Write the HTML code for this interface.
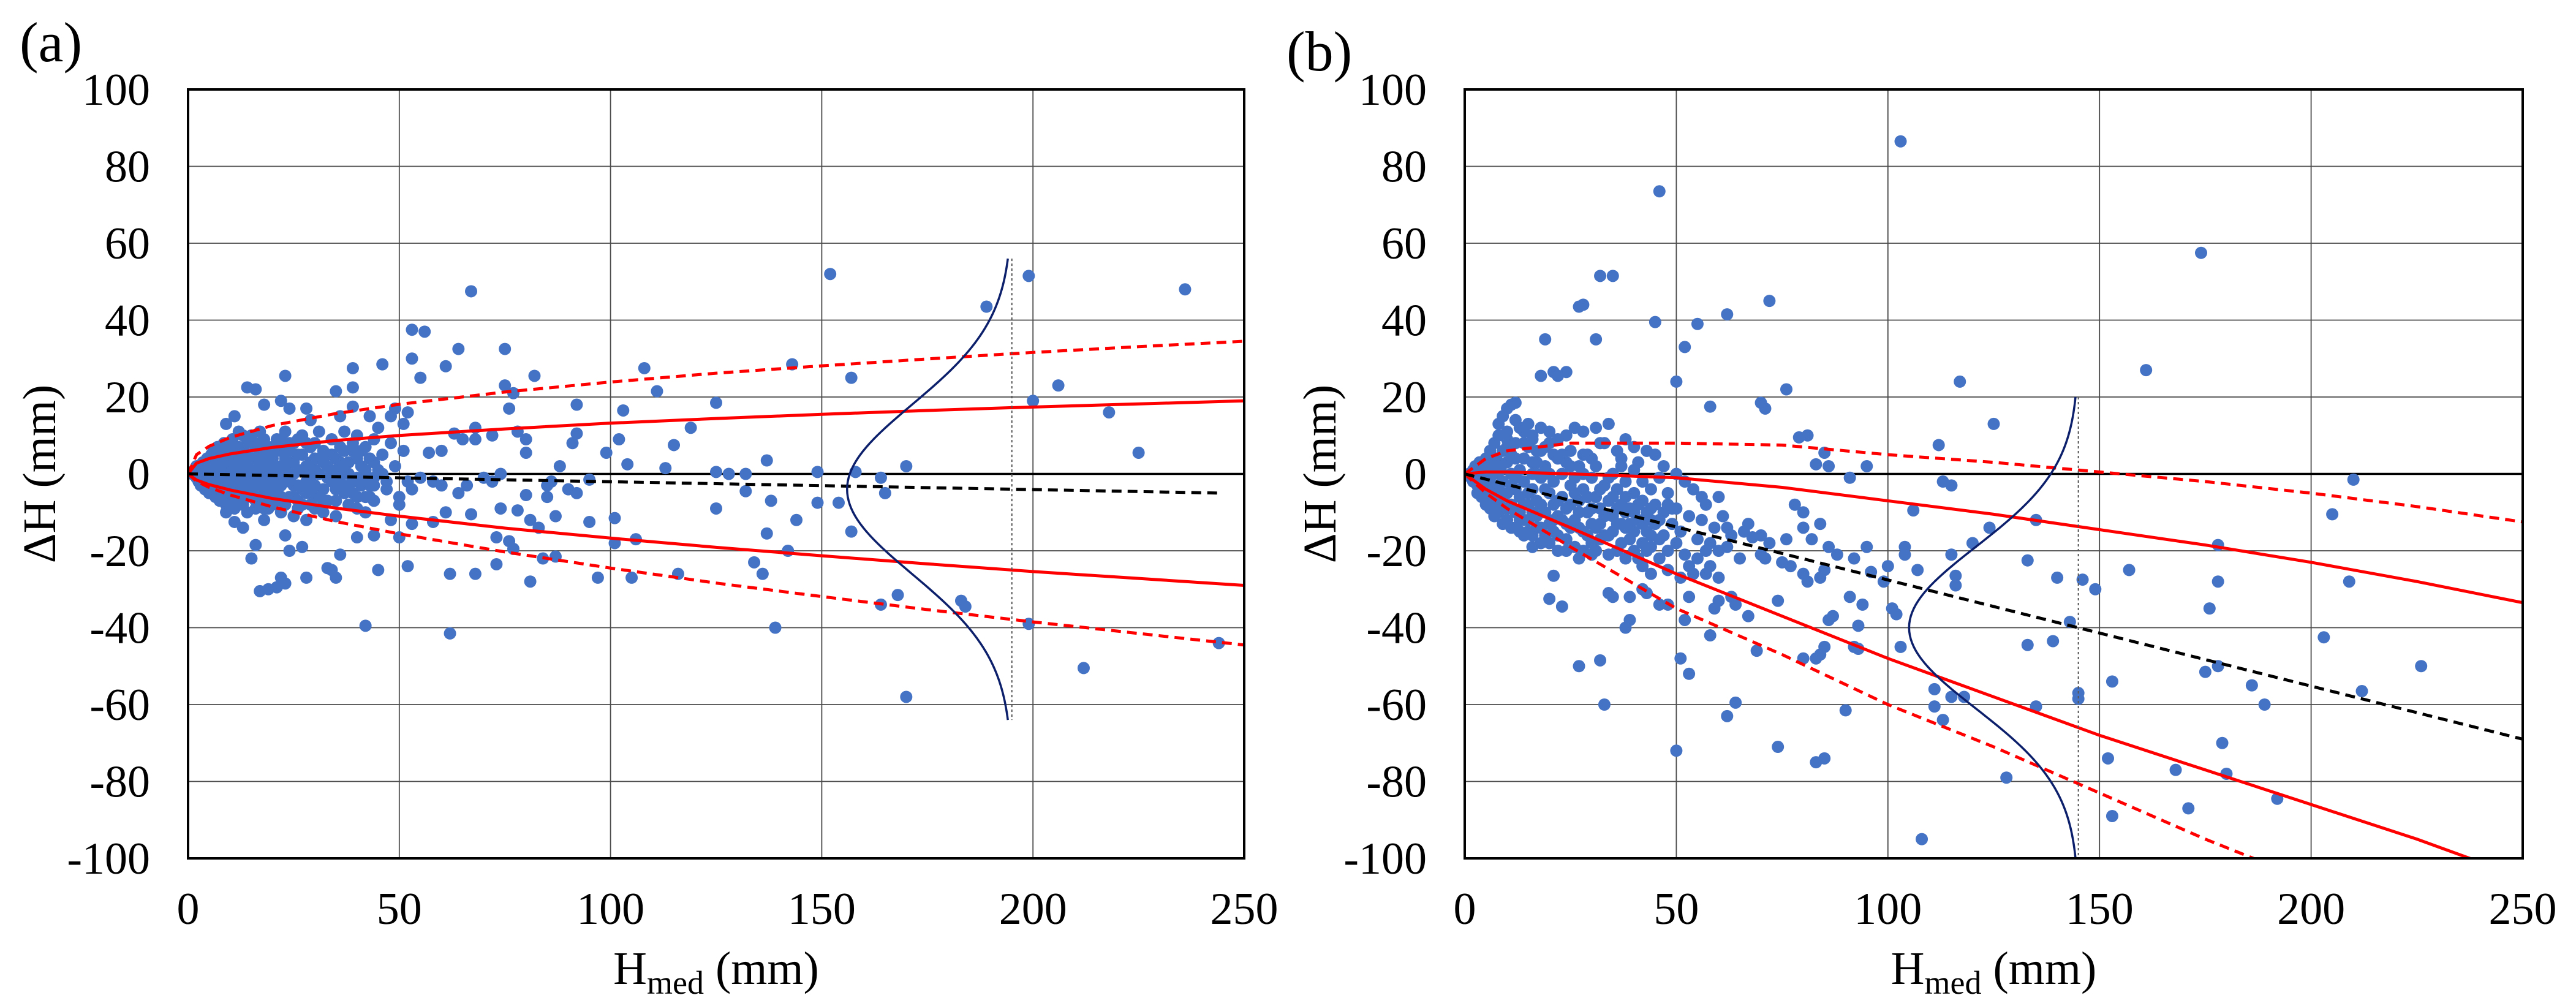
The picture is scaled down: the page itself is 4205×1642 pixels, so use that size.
<!DOCTYPE html>
<html><head><meta charset="utf-8"><style>
html,body{margin:0;padding:0;background:#fff;}
svg{display:block;}
text{font-family:"Liberation Serif",serif;fill:#000;}
</style></head><body>
<svg id="fig" width="4205" height="1642" viewBox="0 0 4205 1642" xmlns="http://www.w3.org/2000/svg">
<defs>
<clipPath id="clipA"><rect x="307" y="146" width="1724" height="1255"/></clipPath>
<clipPath id="clipB"><rect x="2391" y="146" width="1727" height="1255"/></clipPath>
</defs>
<g id="panelA"></g>
<g id="panelB"></g>
</svg>
<script>
const xTicks = [0,50,100,150,200,250];
const yTicks = [100,80,60,40,20,0,-20,-40,-60,-80,-100];

// Panel (a) data
const ptsA = [[152,52],[199,51.5],[236,48],[189,43.5],[67,47.5],[53,37.5],[56,37],[64,32.5],[75,32.5],[53,30],[46,28.5],[39,27.5],[61,28],[55,25],[82,25.5],[108,27.5],[143,28.5],[157,25],[206,23],[200,19],[218,16],[225,5.5],[111,21.5],[125,18.5],[92,18],[103,16.5],[119,12],[115,7.5],[102,9],[99,5.5],[104,2.5],[113,1.5],[125,0.5],[128,0],[132,0],[137,3.5],[149,0.5],[158,0.5],[164,-1],[170,2],[165,-5],[132,-4.5],[138,-7],[149,-7.5],[154,-7.5],[125,-9],[144,-12],[137,-15.5],[157,-15],[142,-20],[134,-23],[136,-26],[116,-26],[105,-27],[97,-27],[81,-28],[68,-26],[62,-26],[52,-24],[45,-25],[42,-39.5],[62,-41.5],[139,-40],[164,-34],[168,-31.5],[183,-33],[184,-34.5],[170,-58],[199,-39],[212,-50.5],[244,-44],[101,-11.5],[101,-18],[106,-17],[95,-12.5],[87,-11],[83,-14],[81,-12],[77,-19.5],[76,-17.5],[73,-16.5],[73,-23.5],[84,-22],[87,-21.5],[78,-9.5],[74,-9],[67,-10.5],[61,-10],[58,-12.5],[53,-13],[50,-16.5],[48,-12],[44,-16],[40,-16.5],[36,-21],[34,-25],[35,-27],[33,-24.5],[27,-19],[28,-27],[23,-28.5],[21,-29.5],[19,-30],[17,-30.5],[22,-27],[24,-20],[23,-16],[15,-22],[16,-18.5],[13,-14],[11,-12.5],[9,-10],[92,10.5],[91,8],[80,9],[80,5.5],[78,11],[76,17],[75,23],[77,21],[72,10],[68,12],[68,9],[65,9],[63,10.5],[60,6],[57,5.5],[52,16],[49,17],[51,13],[48,15],[45,12],[43,15],[39,17.5],[36,15],[39,22.5],[35,21.5],[29,14],[28,17],[24,17],[23,25.5],[22,19],[18,18],[16,22],[14,22.5],[11,15],[9,13],[12,11],[88,2],[86,-2],[85,-3],[90,-4],[95,-1.5],[92,-5],[85,-6],[80,-5.5],[72,-2],[70,-1],[74,0],[66,-3],[64,-5],[60,-3],[58,-2],[55,-1],[53,-4],[50,-6],[47,-2],[44,-1],[42,-6],[40,-9],[37,-4],[35,-7],[32,-10],[30,-6],[28,-12],[26,-9],[25,-3],[20,-5],[18,-9],[16,-6],[14,-4],[12,-7],[10,-5],
[1,0],[1.5,1],[2,-1],[2,2],[2.5,-2],[3,1],[3,-3],[3.5,3],[4,0],[4,-4],[4.5,4],[5,-1],[5,2],[5,-5],[5.5,5],[6,0],[6,-3],[6,6],[6.5,-6],[7,2],[7,-2],[7,7],[7.5,-7],[8,4],[8,-4],[8,0],[8.5,8],[9,-8],[9,3],[9,-2],[10,6],[10,-6],[10,1],[10.5,9],[11,-3],[11,4],[11,-9],[12,0],[12,7],[12,-5],[13,3],[13,-8],[13,10],[14,-2],[14,5],[14,-10],[15,1],[15,8],[15,-6],[16,-3],[16,4],[16,-9],[17,6],[17,-1],[17,11],[18,2],[18,-5],[18,-12],[19,7],[19,-2],[20,4],[20,-8],[20,0],[21,9],[21,-4],[22,2],[22,-10],[22,6],[23,-1],[23,11],[24,-6],[24,3],[25,8],[25,-11],[25,0],[26,5],[26,-3],[27,10],[27,-8],[28,2],[28,-5],[29,7],[29,-1],[30,4],[30,-9],[31,11],[31,0],[32,-4],[32,6],[33,2],[33,-7],[34,9],[34,-2],[35,4],[35,-11],[36,0],[36,7],[37,-5],[37,11],[38,3],[38,-8],[39,6],[39,-2],[40,10],[40,-6],[41,2],[42,-10],[42,7],[43,-3],[43,4],[44,9],[44,-7],[45,1],[46,5],[47,-4],[48,8],[49,2],[50,-8],[51,6],[52,-2],
[3,0.5],[4,2],[5,-3],[6,3],[6,-5],[7,5],[8,-1],[8,6],[9,1],[9,-5],[10,3],[10,-3],[11,7],[11,-1],[12,3],[12,-8],[13,-4],[13,6],[14,1],[14,8],[15,-2],[15,4],[16,1],[16,7],[17,-6],[17,3],[18,9],[18,-1],[19,-7],[19,4],[20,-3],[21,1],[21,6],[22,-6],[23,4],[24,-2],[24,8],[26,-7],[27,1],[28,8],[29,-4],[30,1],[31,-6],[32,3],[33,-1],[34,5],[35,-4],[36,3],[37,1],[38,-3],[39,8],[40,-1],[41,6],[42,1],[43,-6],[44,3],
[2,0.5],[3,2],[3,-1.5],[4,3],[4,-2],[5,0],[5,3.5],[6,-1.5],[6,1.5],[7,-5],[7,3.5],[8,2],[8,-6],[9,-3.5],[9,5],[10,-1],[10,-8],[11,2],[11,-6],[12,-2],[12,5],[13,-1],[13,1],[14,-6],[14,3],[15,-4],[15,10],[16,-1],[16,-7],[17,1],[17,8],[18,-3],[18,5],[19,0],[19,-9],[20,2],[20,7],[21,-1],[21,-7],[22,-3],[22,9],[23,2],[23,-8],[24,0],[24,6],[25,3],[25,-6],[26,1],[26,9],[27,-4],[27,5],[28,-2],[29,3],[29,-8],[30,-3],[30,8],[31,4],[32,-7],[33,5],[34,0],[35,1],[36,-2],[37,6],[38,0],[39,-5],[40,4],[41,-3],[42,-1],[44,-3],[46,0]];
const lineX = [0,2,5,10,20,35,50,75,100,125,150,175,200,225,250];
const upSolidA = [0,2.8,4.0,5.2,6.9,8.7,10.0,11.7,13.2,14.4,15.5,16.5,17.4,18.2,19];
const loSolidA = [0,-1.6,-2.8,-4.2,-6.4,-8.9,-11.0,-14.1,-16.7,-19.1,-21.3,-23.4,-25.4,-27.2,-29];
const upDashA = [0,5.0,7.2,9.5,12.6,15.7,18.1,21.3,23.9,26.2,28.1,29.9,31.6,33.1,34.5];
const loDashA = [0,-1.9,-3.5,-5.5,-8.6,-12.4,-15.6,-20.3,-24.5,-28.4,-31.9,-35.3,-38.5,-41.5,-44.5];
const meanXA = [0,245];
const meanA = [0,-5];
const gaussA = {base:195, amp:39, mu:-4, sd:22, yTop:56, yBot:-64};

// Panel (b) data
const ptsB = [[103,86.5],[46,73.5],[174,57.5],[32,51.5],[35,51.5],[27,43.5],[28,44],[72,45],[45,39.5],[55,39],[62,41.5],[19,35],[31,35],[52,33],[18,25.5],[21,26.5],[24,26.5],[22,25.5],[50,24],[117,24],[161,27],[76,22],[58,17.5],[70,18.5],[71,17],[125,13],[112,7.5],[79,9.5],[81,10],[85,5.5],[91,-1],[95,2],[83,2.5],[86,2],[113,-2],[115,-3],[135,-12],[210,-1.5],[205,-10.5],[124,-14],[120,-18],[133,-22.5],[140,-27],[146,-27.5],[149,-30],[157,-25],[178,-18.5],[178,-28],[176,-35],[209,-28],[203,-42.5],[143,-38.5],[175,-51.5],[178,-50],[226,-50],[212,-56.5],[186,-55],[189,-60],[153,-54],[145,-57],[145,-58.5],[133,-44.5],[139,-43.5],[135,-60.5],[128,-79],[179,-70],[180,-78],[168,-77],[171,-87],[152,-74],[153,-89],[192,-84.5],[108,-95],[111,-56],[111,-60.5],[113,-64],[115,-58],[118,-58],[116,-26.5],[116,-29],[115,-21],[107,-25],[104,-19],[104,-21],[106,-9.5],[102,-36.5],[101,-35],[103,-45],[99,-28],[100,-24],[96,-25.5],[95,-19],[94,-34],[92,-22],[93,-39.5],[92,-45],[93,-45.5],[91,-32],[90,-61.5],[85,-74],[83,-75],[84,-47],[83,-48],[80,-48],[84,-27],[85,-45],[86,-38],[87,-37],[88,-21],[86,-19],[85,-25],[84,-13],[80,-26],[81,-28],[82,-17],[80,-10],[78,-8],[80,-14],[76,-17],[77,-24],[74,-33],[74,-71],[71,-22],[70,-16],[68,-16.5],[67,-37],[66,-15],[63,-16],[62,-14],[63,-32],[64,-34],[62,-63],[64,-59.5],[69,-46],[60,-33],[59,-35],[58,-42],[57,-26],[55,-22],[53,-52],[51,-48],[50,-72],[52,-38],[53,-32],[48,-34],[46,-34],[44,-26],[43,-31],[42,-30],[39,-38],[38,-40],[39,-32],[35,-32],[34,-31],[32,-48.5],[33,-60],[27,-50],[27,-22],[30,-21],[21,-26.5],[20,-32.5],[23,-34.5],[16,-19],[60,-20],[58,-18],[56,-12],[57,-8],[60,-6],[54,-4],[52,-2],[50,0],[48,-8],[46,-12],[44,-16],[42,-18],[40,-20],[38,-22],
[1,0],[1.5,-1],[2,1],[2,-2],[2.5,2],[3,-3],[3,0],[3.5,3],[4,-4],[4,1],[4.5,-1],[5,4],[5,-5],[5,-2],[6,2],[6,-6],[6,6],[6.5,-3],[7,0],[7,-8],[7,8],[7.5,4],[8,-4],[8,-10],[8,10],[8.5,1],[9,-6],[9,6],[9,-2],[10,-12],[10,3],[10,11],[11,-8],[11,0],[11,5],[12,-4],[12,-14],[12,8],[13,1],[13,-10],[13,-6],[14,4],[14,-2],[14,-16],[15,7],[15,-8],[15,-12],[16,0],[16,-4],[16,9],[17,-14],[17,3],[17,-7],[18,-1],[18,6],[18,-18],[19,-10],[19,2],[20,-5],[20,-13],[20,8],[21,-2],[21,-8],[22,4],[22,-16],[22,-11],[23,0],[23,-6],[24,-20],[24,3],[24,-9],[25,-3],[25,6],[26,-12],[26,-1],[27,-7],[27,2],[28,-15],[28,-4],[29,5],[29,-10],[30,-1],[30,-18],[31,-6],[31,2],[32,-13],[32,-9],[33,-3],[33,8],[34,-16],[34,-7],[35,0],[35,-11],[36,-20],[36,-4],[37,-8],[37,4],[38,-14],[38,-2],[39,-17],[39,-9],[40,-5],[40,1],[41,-12],[41,-22],[42,-7],[42,-2],[43,-15],[43,-10],[44,-19],[44,-4],[45,-13],[45,-8],[46,-1],[46,-22],[47,-16],[47,-10],[48,-5],[48,-25],[49,-13],[50,-18],[50,-9],[51,-15],[52,-21],[53,-11],[54,-26],[55,-17],[56,-6],[57,-20],[58,-24],[59,-14],[60,-27],[61,-11],[62,-19],[65,-22],[67,-13],[70,-21],[72,-18],[75,-23],
[4,-1],[5,1],[6,-1],[7,-4],[8,2],[9,-9],[10,-5],[10,7],[11,-3],[12,-1],[12,4],[13,-12],[14,-8],[14,8],[15,-5],[16,-10],[16,3],[17,0],[18,-8],[19,-4],[20,0],[21,-12],[22,-7],[23,5],[24,-13],[25,-8],[26,-5],[27,-10],[28,0],[29,-6],[30,-9],[31,-14],[32,-4],[33,-16],[34,-1],[35,-6],[36,-9],[37,-13],[38,-6],[40,-10],[42,-13],[44,-9],
[8,13],[9,15],[10,17],[11,18],[12,18.5],[12,14],[13,12],[10,9],[14,11],[15,13],[16,10],[17,6],[18,12],[19,7],[20,11],[21,5],[22,9],[24,10],[25,2],[26,12],[28,5],[28,11],[30,4],[31,12],[32,8],[34,13],[36,6],[37,2],[38,9],[40,7],[41,3],[43,6],[45,5],[47,2],[3,-5],[4,-6],[5,-8],[6,-9],[7,-11],[8,-7],[9,-13],[10,-9],[11,-14],[12,-10],[13,-15],[14,-12],[15,-15],[16,-16],[17,-11],[18,-14],[19,-16],[20,-18],[21,-15],[22,-20],[23,-12],[24,-17],[25,-14],[26,-19],[27,-14],[28,-20],[29,-16],[30,-13],[31,-20],[32,-17],[33,-11],[34,-21],[35,-15],[36,-13],[37,-18],[38,-10],[39,-13],[40,-15],[41,-8],[42,-24],[43,-20],[44,-12],[46,-17],[48,-20],[49,-9],[51,-27],[53,-24]];
const lineXB = [0,5,10,25,50,75,100,125,150,175,200,225,250];
const upSolidB = [0,0.5,0.5,0,-1,-3.5,-7,-10.5,-14.5,-18.5,-23,-28,-33.5];
const loSolidB = [0,-4,-7,-14,-26,-37,-48,-58,-68,-77,-86,-95,-105];
const upDashB = [0,4,6,8,8,7.5,5,3,0.5,-2,-5,-8.5,-12.5];
const loDashB = [0,-5,-9,-19,-35,-47,-60,-71,-83,-95,-106,-117,-128];
const meanXB = [0,250];
const meanB = [0,-69];
const gaussB = {base:145, amp:40, mu:-40, sd:21, yTop:20, yBot:-100};

const NS = 'http://www.w3.org/2000/svg';
function mk(parent, tag, attrs){
  const e = document.createElementNS(NS, tag);
  for (const k in attrs) e.setAttribute(k, attrs[k]);
  parent.appendChild(e);
  return e;
}

function drawPanel(g, L, R, T, B, clip, pts, lx, upS, loS, upD, loD, mX, mY, gs, label, labelX, labelY, yTitleX){
  const sx = v => L + v * (R - L) / 250;
  const sy = v => T + (100 - v) * (B - T) / 200;
  xTicks.forEach(t => {
    if (t === 0 || t === 250) return;
    const l = mk(g, 'line', {x1:sx(t), x2:sx(t), y1:T, y2:B, stroke:'#4a4a4a', 'stroke-width':1.8});
    
    
  });
  yTicks.forEach(t => {
    if (t === 100 || t === -100 || t === 0) return;
    const l = mk(g, 'line', {x1:L, x2:R, y1:sy(t), y2:sy(t), stroke:'#4a4a4a', 'stroke-width':1.8});
    
    
  });
  const z = mk(g, 'line', {x1:L, x2:R, y1:sy(0), y2:sy(0), stroke:'#000', 'stroke-width':3.5});
  
  
  const cg = mk(g, 'g', {'clip-path':'url(#' + clip + ')'});
  
  
  pts.forEach((p, i) => {
    const c = mk(cg, 'circle', {cx:sx(p[0]), cy:sy(p[1]), r:10, fill:'#4472C4'});
    
    
  });
  function poly(xs, ys, color, dash, w, name){
    const d = xs.map((x, i) => sx(x) + ',' + sy(ys[i])).join(' ');
    const a = {points:d, fill:'none', stroke:color, 'stroke-width':w, 'stroke-linejoin':'round'};
    if (dash) a['stroke-dasharray'] = dash;
    const pl = mk(cg, 'polyline', a);
    
    
  }
  poly(lx, upS, '#FF0000', null, 5, 'upper-solid-bound');
  poly(lx, loS, '#FF0000', null, 5, 'lower-solid-bound');
  poly(lx, upD, '#FF0000', '16,10', 5, 'upper-dashed-bound');
  poly(lx, loD, '#FF0000', '16,10', 5, 'lower-dashed-bound');
  poly(mX, mY, '#000000', '16,10', 5, 'mean-trend-line');
  const gx = [], gy = [];
  for (let y = gs.yTop; y >= gs.yBot; y -= 1) {
    gx.push(gs.base - gs.amp * Math.exp(-Math.pow(y - gs.mu, 2) / (2 * gs.sd * gs.sd)));
    gy.push(y);
  }
  poly(gx, gy, '#0B1F6B', null, 3.5, 'distribution-curve');
  const vl = mk(cg, 'line', {x1:sx(gs.base), x2:sx(gs.base), y1:sy(gs.yTop), y2:sy(gs.yBot), stroke:'#555', 'stroke-width':2, 'stroke-dasharray':'4,4'});
  
  
  const fr = mk(g, 'rect', {x:L, y:T, width:R - L, height:B - T, fill:'none', stroke:'#000', 'stroke-width':4});
  
  
  xTicks.forEach(t => {
    const tx = mk(g, 'text', {x:sx(t), y:1508, 'font-size':74, 'text-anchor':'middle'});
    tx.textContent = t;
    
    
  });
  yTicks.forEach(t => {
    const tx = mk(g, 'text', {x:L - 62, y:sy(t) + 25, 'font-size':74, 'text-anchor':'end'});
    tx.textContent = t;
    
    
  });
  const xt = mk(g, 'text', {x:(L + R) / 2, y:1606, 'font-size':76, 'text-anchor':'middle'});
  xt.innerHTML = 'H<tspan font-size="54" dy="16">med</tspan><tspan dy="-16"> (mm)</tspan>';
  
  
  const yt = mk(g, 'text', {x:0, y:0, 'font-size':76, 'text-anchor':'middle', transform:'translate(' + yTitleX + ',' + ((T + B) / 2) + ') rotate(-90)'});
  yt.textContent = 'ΔH (mm)';
  
  
  const pl = mk(g, 'text', {x:labelX, y:labelY, 'font-size':92});
  pl.textContent = label;
  
  
}

drawPanel(document.getElementById('panelA'), 307, 2031, 146, 1401, 'clipA', ptsA, lineX, upSolidA, loSolidA, upDashA, loDashA, meanXA, meanA, gaussA, '(a)', 32, 100, 90);
drawPanel(document.getElementById('panelB'), 2391, 4118, 146, 1401, 'clipB', ptsB, lineXB, upSolidB, loSolidB, upDashB, loDashB, meanXB, meanB, gaussB, '(b)', 2100, 115, 2180);
</script>
</body></html>
